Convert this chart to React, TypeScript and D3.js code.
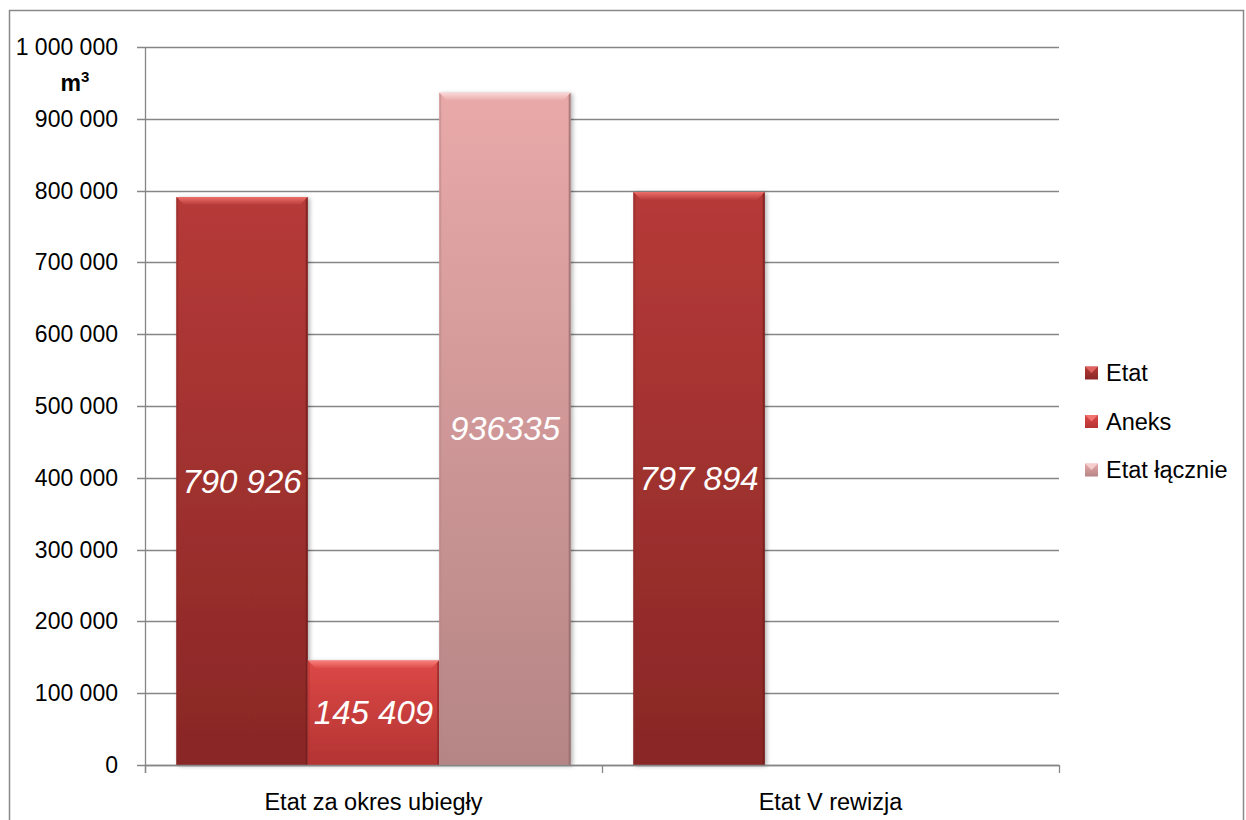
import React from "react";
import * as d3 from "d3";

const categories = ["Etat za okres ubiegły", "Etat V rewizja"];
const seriesNames = ["Etat", "Aneks", "Etat łącznie"];
const etatValues: (number | null)[] = [790926, 797894];
const aneksValues: (number | null)[] = [145409, null];
const etatLacznieValues: (number | null)[] = [936335, null];
const yTicks = [0, 100000, 200000, 300000, 400000, 500000, 600000, 700000, 800000, 900000, 1000000];

const seriesValues = [etatValues, aneksValues, etatLacznieValues];
const seriesStyle = [
  { top: "#b63a38", bottom: "#892726", hi: "#ec6e6a", edge: "#6e1d1c", grouped: true },
  { top: "#dc4846", bottom: "#b43433", hi: "#f8807c", edge: "#8e2626", grouped: true },
  { top: "#e9a9a9", bottom: "#b58585", hi: "#fbd8d8", edge: "#8f6a6a", grouped: false },
];

const spaceFmt = (v: number) => d3.format(",")(v).replace(/,/g, " ");
const plainFmt = d3.format("d");

const FONT = "'Liberation Sans', Arial, sans-serif";

export default function App() {
  const left = 145, right = 1059, top = 47, bottom = 765;
  const y = d3.scaleLinear().domain([0, 1000000]).range([bottom, top]);
  const x = d3.scaleBand<string>().domain(categories).range([left, right]).paddingInner(0).paddingOuter(0);
  const cw = x.bandwidth();
  const inset = cw * 0.0685;
  const xs = d3.scaleBand<string>().domain(seriesNames).range([inset, cw - inset]).padding(0);
  const bw = xs.bandwidth();
  const bev = 8;

  const bars: any[] = [];
  seriesNames.forEach((s, si) => {
    categories.forEach((c, ci) => {
      const v = seriesValues[si][ci];
      if (v == null) return;
      bars.push({ s, si, c, v, x0: (x(c) as number) + (xs(s) as number), y0: y(v) });
    });
  });

  return (
    <svg width={1246} height={820} style={{ position: "fixed", left: 0, top: 0, background: "#fff" }}>
      <defs>
        {seriesStyle.map((st, i) => (
          <linearGradient key={i} id={`g${i}`} x1="0" y1="0" x2="0" y2="1">
            <stop offset="0" stopColor={st.top} />
            <stop offset="1" stopColor={st.bottom} />
          </linearGradient>
        ))}
        {seriesStyle.map((st, i) => (
          <linearGradient key={"h" + i} id={`h${i}`} x1="0" y1="0" x2="0" y2="1">
            <stop offset="0" stopColor={st.hi} />
            <stop offset="1" stopColor={st.top} />
          </linearGradient>
        ))}
        <filter id="sh" x="-10%" y="-10%" width="130%" height="130%">
          <feDropShadow dx="2" dy="1" stdDeviation="2" floodColor="#000" floodOpacity="0.3" />
        </filter>
      </defs>
      <rect x={9.5} y={10.5} width={1234} height={830} fill="#fff" stroke="#898989" strokeWidth={1.5} />

      {yTicks.map((t) => (
        <g key={t}>
          <line x1={left - 8} x2={right} y1={Math.round(y(t)) + 0.5} y2={Math.round(y(t)) + 0.5} stroke="#868686" strokeWidth={1.3} />
          <text x={118} y={y(t)} dy="0.35em" textAnchor="end" fontFamily={FONT} fontSize={23} fill="#000">
            {spaceFmt(t)}
          </text>
        </g>
      ))}
      <text x={75} y={91} textAnchor="middle" fontFamily={FONT} fontSize={23} fontWeight="bold">
        m<tspan fontSize={15} dy={-9}>3</tspan>
      </text>

      {bars.map((b, i) => {
        const st = seriesStyle[b.si];
        const h = bottom - b.y0;
        const x1 = b.x0 + bw;
        const cy = b.y0 + h / 2;
        const label = st.grouped ? spaceFmt(b.v) : plainFmt(b.v);
        return (
          <g key={i}>
            <rect x={b.x0} y={b.y0} width={bw} height={h} fill={`url(#g${b.si})`} filter="url(#sh)" />
            <polygon points={`${b.x0},${b.y0} ${x1},${b.y0} ${x1 - bev},${b.y0 + bev} ${b.x0 + bev},${b.y0 + bev}`} fill={`url(#h${b.si})`} />
            <polygon points={`${x1},${b.y0} ${x1},${bottom} ${x1 - 2},${bottom} ${x1 - 2},${b.y0 + 2}`} fill={st.edge} opacity={0.7} />
            <polygon points={`${b.x0},${b.y0} ${b.x0 + 2},${b.y0 + 2} ${b.x0 + 2},${bottom} ${b.x0},${bottom}`} fill={st.bottom} opacity={0.5} />
            <text x={b.x0 + bw / 2} y={cy} dy="0.35em" textAnchor="middle" fontFamily={FONT} fontStyle="italic" fontSize={33} fill="#fff">
              {label}
            </text>
          </g>
        );
      })}

      <line x1={left + 0.5} x2={left + 0.5} y1={top} y2={bottom + 8} stroke="#868686" strokeWidth={1.3} />
      <line x1={left} x2={right} y1={bottom + 0.5} y2={bottom + 0.5} stroke="#868686" strokeWidth={1.3} />
      {[left, left + cw, right].map((tx, i) => (
        <line key={i} x1={tx + 0.5} x2={tx + 0.5} y1={bottom} y2={bottom + 8} stroke="#868686" strokeWidth={1.3} />
      ))}
      {categories.map((c) => (
        <text key={c} x={(x(c) as number) + cw / 2} y={802} dy="0.35em" textAnchor="middle" fontFamily={FONT} fontSize={23.5}>
          {c}
        </text>
      ))}

      {seriesNames.map((s, i) => {
        const st = seriesStyle[i];
        const ly = 373 + i * 48.5;
        const sx = 1085, sz = 13;
        return (
          <g key={s}>
            <rect x={sx} y={ly - sz / 2} width={sz} height={sz} fill={`url(#g${i})`} />
            <polygon points={`${sx},${ly - sz / 2} ${sx + sz},${ly - sz / 2} ${sx + sz / 2},${ly}`} fill={st.hi} opacity={0.8} />
            <text x={1106} y={ly} dy="0.35em" fontFamily={FONT} fontSize={23.5}>
              {s}
            </text>
          </g>
        );
      })}
    </svg>
  );
}
